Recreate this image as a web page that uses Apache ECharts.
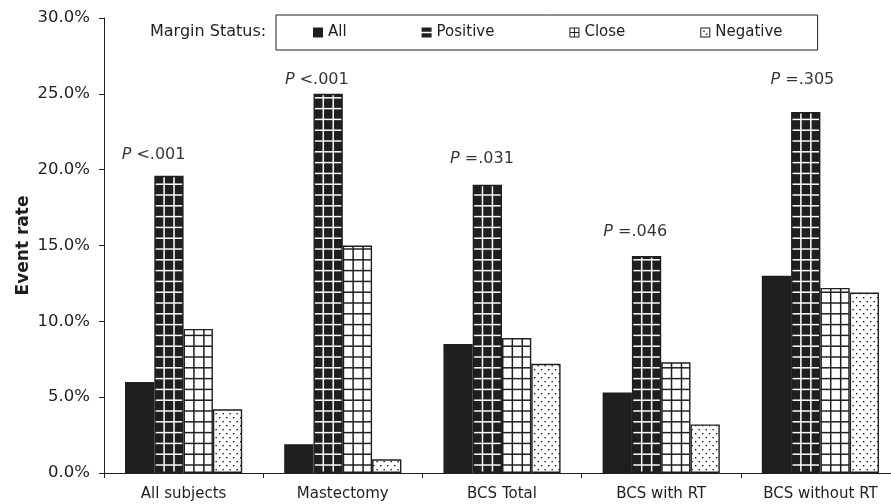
<!DOCTYPE html>
<html>
<head>
<meta charset="utf-8">
<title>Event rate by margin status</title>
<script src="https://cdn.jsdelivr.net/npm/echarts@6/dist/echarts.min.js"></script>
<style>
  html, body { margin: 0; padding: 0; background: #fff; }
  #chart { width: 891px; height: 504px; }
</style>
</head>
<body>
<div id="chart"></div>
<script>
// values, in percent
var categories = ['All subjects', 'Mastectomy', 'BCS Total', 'BCS with RT', 'BCS without RT'];
var allRate = [6.0, 1.9, 8.5, 5.3, 13.0];
var positiveRate = [19.6, 25.0, 19.0, 14.3, 23.8];
var closeRate = [9.5, 15.0, 8.9, 7.3, 12.2];
var negativeRate = [4.2, 0.9, 7.2, 3.2, 11.9];
var pValues = ['<.001', '<.001', '=.031', '=.046', '=.305'];
var pLabelAt = [21.0, 25.9, 20.7, 15.9, 25.9];

// small nudge of each P text left of the group centre
var pTextDx = [-30, -26, -20, -26, -18];

var ink = '#1f1f1f';
var font = 'DejaVu Sans';

// hatch fills (tile drawn at 2x, scaled back down)
function hatch(kind) {
  var c = document.createElement('canvas');
  var g = c.getContext('2d');
  if (kind === 'dots') {
    c.width = 14; c.height = 16;
    g.fillStyle = '#fff'; g.fillRect(0, 0, 14, 16);
    g.fillStyle = '#000';
    g.fillRect(2, 2, 2.6, 2.6);
    g.fillRect(9, 10, 2.6, 2.6);
    return { image: c, repeat: 'repeat', x: 1, y: 0, scaleX: 0.5, scaleY: 0.5 };
  }
  c.width = 20; c.height = 22;
  g.fillStyle = kind === 'pos' ? ink : '#fff';
  g.fillRect(0, 0, 20, 22);
  g.fillStyle = kind === 'pos' ? '#fff' : ink;
  g.fillRect(0, 0, 1.5, 22);
  g.fillRect(18.5, 0, 1.5, 22);
  g.fillRect(0, 0, 20, 1.5);
  g.fillRect(0, 20.5, 20, 1.5);
  return { image: c, repeat: 'repeat', x: 4.87, y: 0.6, scaleX: 9.95 / 20, scaleY: 10.8 / 22 };
}

var barBorder = { borderColor: ink, borderWidth: 1.4 };

function barSeries(name, data, color) {
  return {
    name: name,
    type: 'bar',
    data: data,
    barGap: '0%',
    barCategoryGap: '26.4%',
    itemStyle: Object.assign({ color: color }, barBorder)
  };
}

var chart = echarts.init(document.getElementById('chart'));

chart.setOption({
  animation: false,
  backgroundColor: '#fff',
  textStyle: { fontFamily: font, color: ink },
  title: {
    text: 'Margin Status:',
    left: 150,
    top: 24,
    padding: 0,
    textStyle: { fontFamily: font, fontSize: 16, fontWeight: 'normal', color: ink }
  },
  legend: {
    left: 276,
    top: 15,
    padding: [10, 35, 10, 37],
    itemGap: 75,
    itemWidth: 10,
    itemHeight: 10,
    borderColor: ink,
    borderWidth: 1,
    textStyle: { fontFamily: font, fontSize: 15, color: ink },
    data: [
      { name: 'All', icon: 'rect', itemStyle: { color: ink, borderWidth: 0 } },
      { name: 'Positive', icon: 'path://M0,0H10V4.3H0Z M0,5.7H10V10H0Z', itemStyle: { color: ink, borderWidth: 0 } },
      { name: 'Close', icon: 'path://M0,0H10V1H0Z M0,9H10V10H0Z M0,0H1V10H0Z M9,0H10V10H9Z M4.5,0H5.5V10H4.5Z M0,4.5H10V5.5H0Z', itemStyle: { color: ink, borderWidth: 0 } },
      { name: 'Negative', icon: 'path://M0,0H10V1H0Z M0,9H10V10H0Z M0,0H1V10H0Z M9,0H10V10H9Z M3,3H4.4V4.4H3Z M5.8,6H7.2V7.4H5.8Z', itemStyle: { color: ink, borderWidth: 0 } }
    ]
  },
  grid: {
    left: 104,
    top: 18,
    width: 796,
    height: 455,
    outerBoundsMode: 'none',
    containLabel: false
  },
  xAxis: {
    type: 'category',
    data: categories,
    boundaryGap: true,
    axisLine: { show: true, lineStyle: { color: ink, width: 1 } },
    axisTick: { show: true, length: 5, interval: 0, lineStyle: { color: ink } },
    axisLabel: { margin: 14, fontFamily: font, fontSize: 15, color: ink, interval: 0 },
    splitLine: { show: false }
  },
  yAxis: {
    type: 'value',
    min: 0,
    max: 30,
    interval: 5,
    name: 'Event rate',
    nameLocation: 'middle',
    nameGap: 72,
    nameMoveOverlap: false,
    nameTextStyle: { fontFamily: font, fontSize: 17, fontWeight: 'bold', color: ink },
    axisLine: { show: true, lineStyle: { color: ink, width: 1 } },
    axisTick: { show: true, length: 5, inside: false, lineStyle: { color: ink } },
    axisLabel: {
      margin: 14,
      fontFamily: font,
      fontSize: 16.5,
      color: ink,
      formatter: function (v) { return v.toFixed(1) + '%'; }
    },
    splitLine: { show: false }
  },
  series: [
    barSeries('All', allRate, ink),
    barSeries('Positive', positiveRate, hatch('pos')),
    barSeries('Close', closeRate, hatch('close')),
    barSeries('Negative', negativeRate, hatch('dots')),
    {
      name: 'P',
      type: 'scatter',
      symbol: 'circle',
      symbolSize: 0,
      itemStyle: { color: 'transparent' },
      silent: true,
      z: 10,
      data: pLabelAt.map(function (v, i) {
        return { value: v, label: { offset: [pTextDx[i], 0] } };
      }),
      label: {
        show: true,
        position: 'inside',
        fontFamily: font,
        fontSize: 16,
        color: ink,
        textBorderWidth: 0,
        formatter: function (p) { return '{i|P} {n|' + pValues[p.dataIndex] + '}'; },
        rich: {
          i: { fontFamily: font, fontSize: 16, fontStyle: 'italic', color: '#000' },
          n: { fontFamily: font, fontSize: 16, color: '#000' }
        }
      }
    }
  ]
});
</script>
</body>
</html>
